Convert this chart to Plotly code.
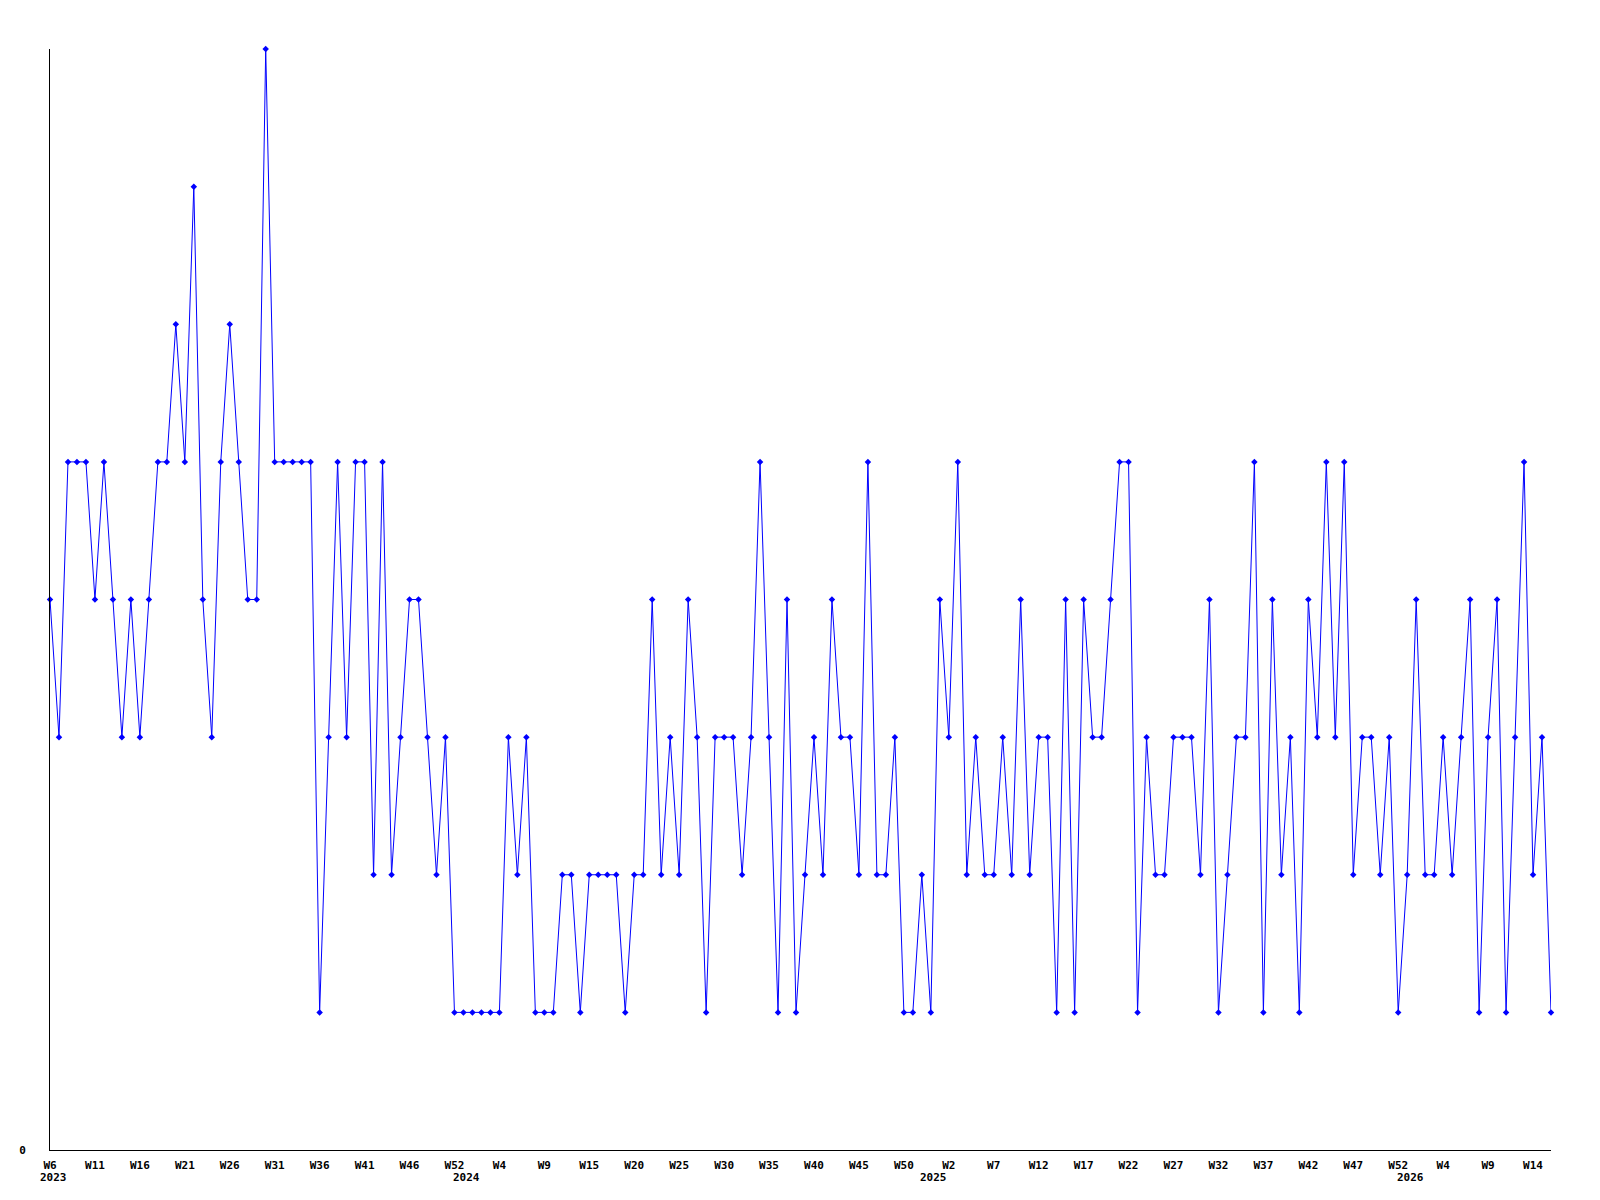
import plotly.graph_objects as go

# weekly values (index 0 = 2023 W6)
values = [
    4, 3, 5, 5, 5, 4, 5, 4, 3, 4,
    3, 4, 5, 5, 6, 5, 7, 4, 3, 5,
    6, 5, 4, 4, 8, 5, 5, 5, 5, 5,
    1, 3, 5, 3, 5, 5, 2, 5, 2, 3,
    4, 4, 3, 2, 3, 1, 1, 1, 1, 1,
    1, 3, 2, 3, 1, 1, 1, 2, 2, 1,
    2, 2, 2, 2, 1, 2, 2, 4, 2, 3,
    2, 4, 3, 1, 3, 3, 3, 2, 3, 5,
    3, 1, 4, 1, 2, 3, 2, 4, 3, 3,
    2, 5, 2, 2, 3, 1, 1, 2, 1, 4,
    3, 5, 2, 3, 2, 2, 3, 2, 4, 2,
    3, 3, 1, 4, 1, 4, 3, 3, 4, 5,
    5, 1, 3, 2, 2, 3, 3, 3, 2, 4,
    1, 2, 3, 3, 5, 1, 4, 2, 3, 1,
    4, 3, 5, 3, 5, 2, 3, 3, 2, 3,
    1, 2, 4, 2, 2, 3, 2, 3, 4, 1,
    3, 4, 1, 3, 5, 2, 3, 1,
]
weeks = list(range(len(values)))

week_labels = [
    "W6", "W11", "W16", "W21", "W26", "W31", "W36", "W41", "W46", "W52",
    "W4", "W9", "W15", "W20", "W25", "W30", "W35", "W40", "W45", "W50",
    "W2", "W7", "W12", "W17", "W22", "W27", "W32", "W37", "W42", "W47", "W52",
    "W4", "W9", "W14",
]
tick_step = 5
tick_positions = [i * tick_step for i in range(len(week_labels))]

year_labels = ["2023", "2024", "2025", "2026"]
year_positions = [0.36, 46.3, 98.3, 151.4]

font_family = "DejaVu Sans Mono"
BLUE = "#0000FF"

fig = go.Figure()
fig.add_trace(go.Scatter(
    x=weeks, y=values, mode="lines+markers",
    line=dict(color=BLUE, width=1),
    marker=dict(color=BLUE, symbol="diamond", size=5, line=dict(width=0)),
    cliponaxis=False, showlegend=False, hoverinfo="skip",
))

for lab, pos in zip(year_labels, year_positions):
    fig.add_annotation(
        x=pos, y=0, xref="x", yref="paper", text=lab, showarrow=False,
        xanchor="center", yanchor="middle", yshift=-27,
        font=dict(family=font_family, size=11, color="black", weight="bold"),
    )

# page body has an 8px margin, so the figure is sized to fit inside it
fig.update_layout(
    width=1584, height=1184,
    margin=dict(l=42, r=41, t=41, b=42),
    paper_bgcolor="white", plot_bgcolor="white",
    font=dict(family=font_family, size=11, color="black", weight="bold"),
    xaxis=dict(
        range=[0, len(values) - 1], tickmode="array",
        tickvals=tick_positions, ticktext=week_labels,
        showgrid=False, zeroline=False, showline=True, linecolor="black",
        linewidth=1, ticks="", ticklabelstandoff=5,
        tickfont=dict(family=font_family, size=11, color="black", weight="bold"),
    ),
    yaxis=dict(
        range=[0, 8], tickmode="array", tickvals=[0], ticktext=["0"],
        showgrid=False, zeroline=False, showline=True, linecolor="black",
        linewidth=1, ticks="", ticklabelstandoff=21,
        tickfont=dict(family=font_family, size=11, color="black", weight="bold"),
    ),
)

fig.write_html("out.html")
